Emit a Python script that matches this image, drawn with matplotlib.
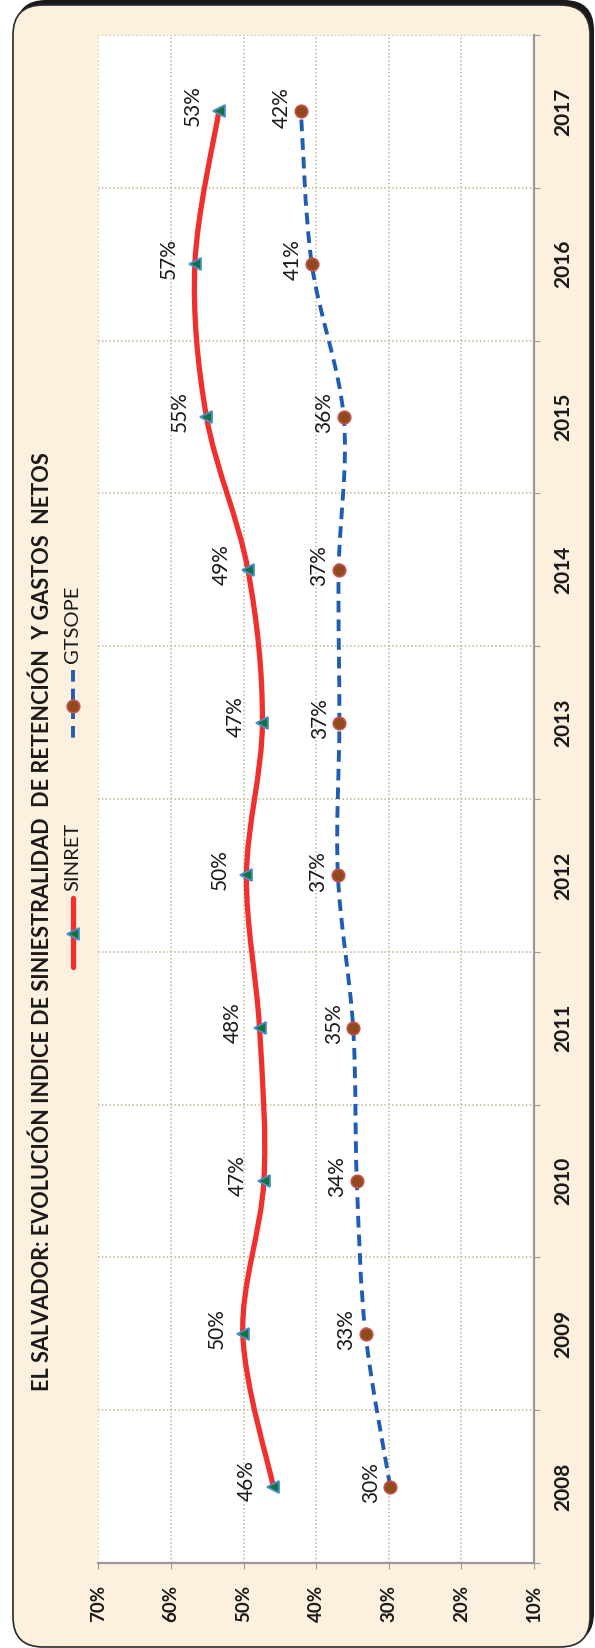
import numpy as np
import matplotlib
matplotlib.use("Agg")
import matplotlib.pyplot as plt
from matplotlib.path import Path
from matplotlib.patches import PathPatch, FancyBboxPatch
from matplotlib.lines import Line2D

plt.rcParams['font.family'] = ['Lato', 'DejaVu Sans']

# data
years = ['2008', '2009', '2010', '2011', '2012', '2013', '2014', '2015', '2016', '2017']
sinret = [45.9, 50.1, 47.2, 47.8, 49.6, 47.4, 49.4, 55.1, 56.7, 53.4]
gtsope = [29.8, 33.2, 34.4, 34.9, 37.0, 36.8, 36.9, 36.2, 40.6, 42.1]
pct_ticks = [70, 60, 50, 40, 30, 20, 10]
title = 'EL SALVADOR: EVOLUCIÓN INDICE DE SINIESTRALIDAD  DE RETENCIÓN  Y GASTOS  NETOS'

W, H = 595, 1648
fig = plt.figure(figsize=(W / 100, H / 100), dpi=100)

# background frame, pixel coordinates
bg = fig.add_axes([0, 0, 1, 1])
bg.set_xlim(0, W)
bg.set_ylim(H, 0)
bg.axis('off')
bg.add_patch(FancyBboxPatch((16, 0), 578, 1643, boxstyle='round,pad=0,rounding_size=30',
                            facecolor='#1a1a1a', edgecolor='none'))
bg.add_patch(FancyBboxPatch((13, 5), 577, 1642, boxstyle='round,pad=0,rounding_size=30',
                            facecolor='#fdf0df', edgecolor='#2a2a2a', linewidth=1.2))

# plot area (rotated chart: value axis horizontal, years vertical)
left, right, top, bottom = 98.3, 534, 35, 1563
ax = fig.add_axes([left / W, 1 - bottom / H, (right - left) / W, (bottom - top) / H])
ax.set_facecolor('white')
ax.set_xlim(70, 10)
ax.set_ylim(-0.5, 9.5)

grid_kw = dict(color='#bdb68c', linestyle=(0, (1, 1.5)), linewidth=1.1)
ax.set_xticks(pct_ticks)
ax.set_xticklabels([f'{p}%' for p in pct_ticks], rotation=90, fontweight='bold',
                   fontsize=13.5, color='#1a1a1a')
ax.set_yticks(np.arange(-0.5, 10, 1))
ax.set_yticklabels([])
ax.set_yticks(range(len(years)), minor=True)
ax.set_yticklabels(years, minor=True, rotation=90, fontweight='bold',
                   fontsize=15, color='#1a1a1a', va='center')
ax.yaxis.tick_right()
ax.grid(True, which='major', **grid_kw)
ax.tick_params(axis='x', which='major', direction='out', length=4.5, color='#9a9a9a', pad=11)
ax.tick_params(axis='y', which='major', direction='out', length=4.5, color='#9a9a9a')
ax.tick_params(axis='y', which='minor', length=0, pad=14)
for s in ['top', 'left']:
    ax.spines[s].set_visible(False)
for s in ['right', 'bottom']:
    ax.spines[s].set_color('#9a9a9a')
    ax.spines[s].set_linewidth(1.6)


def smooth_path(xs, ys):
    pts = np.column_stack([xs, ys]).astype(float)
    verts = [pts[0]]
    codes = [Path.MOVETO]
    n = len(pts)
    for i in range(n - 1):
        p0 = pts[max(i - 1, 0)]
        p1 = pts[i]
        p2 = pts[i + 1]
        p3 = pts[min(i + 2, n - 1)]
        verts += [p1 + (p2 - p0) / 6, p2 - (p3 - p1) / 6, p2]
        codes += [Path.CURVE4] * 3
    return Path(verts, codes)


idx = np.arange(len(years))

ax.add_patch(PathPatch(smooth_path(sinret, idx), fill=False, edgecolor='#f0302e',
                       linewidth=3.8, capstyle='round', zorder=3))
ax.plot(sinret, idx, linestyle='none', marker='<', markersize=9,
        markerfacecolor='#16713a', markeredgecolor='#4a8fd0', markeredgewidth=1.3, zorder=4)

ax.add_patch(PathPatch(smooth_path(gtsope, idx), fill=False, edgecolor='#1f5db4',
                       linewidth=2.8, linestyle=(0, (3.0, 1.8)), zorder=3))
ax.plot(gtsope, idx, linestyle='none', marker='o', markersize=9,
        markerfacecolor='#8f4a1e', markeredgecolor='#c9504c', markeredgewidth=1.2, zorder=4)

for v, i in zip(sinret, idx):
    ax.annotate(f'{round(v)}%', (v, i), xytext=(-19, 4), textcoords='offset points',
                rotation=90, ha='center', va='center', fontsize=15, color='#1a1a1a')
for v, i in zip(gtsope, idx):
    ax.annotate(f'{round(v)}%', (v, i), xytext=(-14, 3), textcoords='offset points',
                rotation=90, ha='center', va='center', fontsize=15, color='#1a1a1a')

# title
bg.text(42.5, 922, title, rotation=90, ha='center', va='center',
        fontsize=15.6, fontweight='bold', color='#1a1a1a')

# legend (drawn by hand, rotated)
lx = 72.7
bg.add_line(Line2D([lx, lx], [898, 967], color='#f0302e', linewidth=3.8, solid_capstyle='round'))
bg.plot([lx], [934], marker='<', markersize=9, markerfacecolor='#16713a',
        markeredgecolor='#4a8fd0', markeredgewidth=1.3)
bg.text(lx, 856.5, 'SINRET', rotation=90, ha='center', va='center', fontsize=14.5, color='#1a1a1a')
bg.add_line(Line2D([lx, lx], [670, 741], color='#1f5db4', linewidth=2.8,
                   linestyle=(0, (3.0, 1.8))))
bg.plot([lx], [706], marker='o', markersize=9, markerfacecolor='#8f4a1e',
        markeredgecolor='#c9504c', markeredgewidth=1.2)
bg.text(lx, 624.5, 'GTSOPE', rotation=90, ha='center', va='center', fontsize=14.5, color='#1a1a1a')

fig.savefig('out.png', dpi=100)
